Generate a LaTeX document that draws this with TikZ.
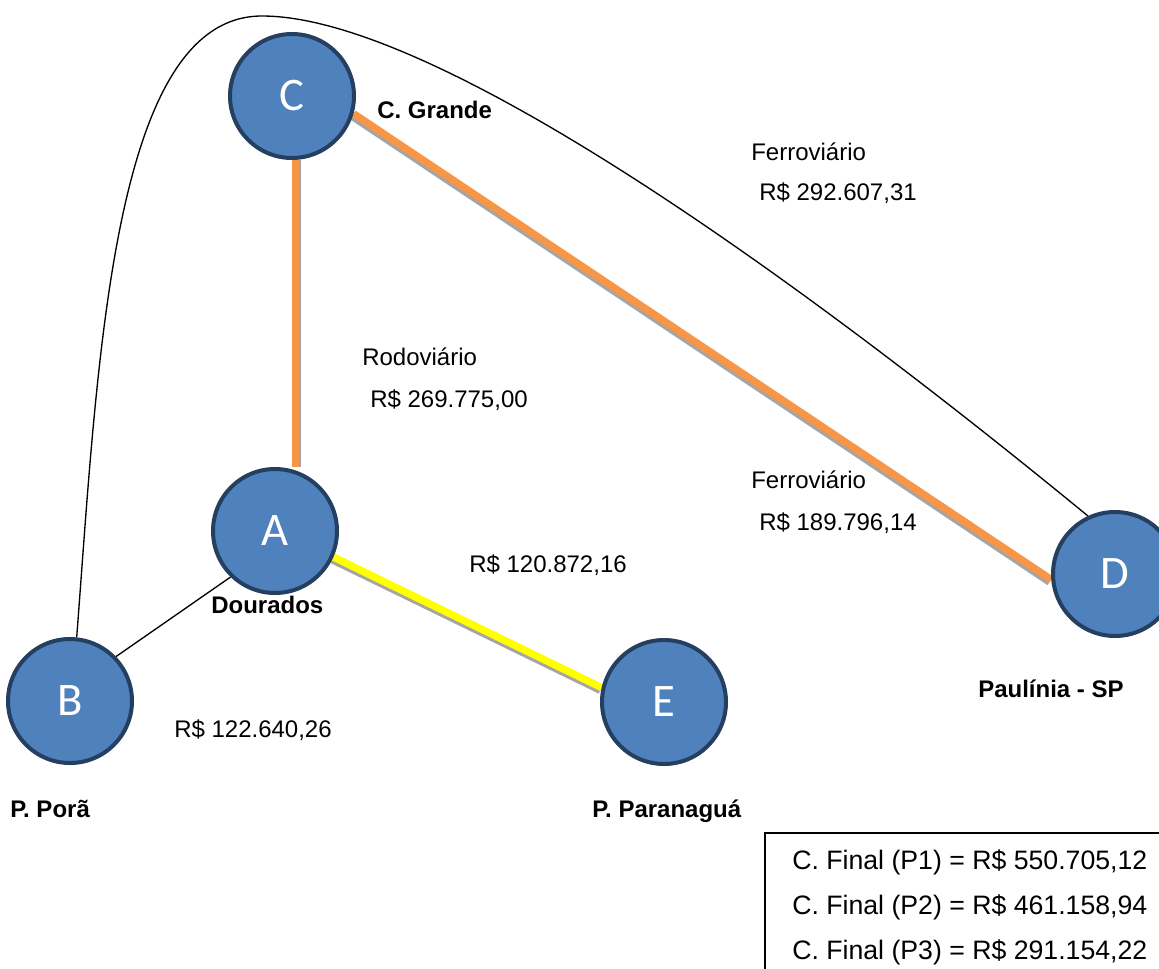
\documentclass[tikz,border=0pt]{standalone}
\usepackage{fontspec}
\setmainfont{Liberation Sans}
\newfontfamily\letterfont{Carlito}
\usetikzlibrary{backgrounds}
\definecolor{nodefill}{HTML}{4F81BD}
\definecolor{nodeline}{HTML}{243F60}
\definecolor{roadorange}{HTML}{F79646}
\definecolor{basegray}{HTML}{A5A5A5}
\definecolor{seayellow}{HTML}{FFFF00}

\begin{document}
\begin{tikzpicture}[x=0.75pt,y=-0.75pt,
  city/.style={circle, fill=nodefill, draw=nodeline, line width=3pt,
    minimum size=93pt, inner sep=0pt, text=white,
    font=\letterfont\fontsize{35}{35}\selectfont},
  place/.style={anchor=base west, inner sep=0pt,
    font=\bfseries\fontsize{18}{20}\selectfont},
  cost/.style={anchor=base west, inner sep=0pt,
    font=\fontsize{18}{20}\selectfont},
  total/.style={anchor=base west, inner sep=0pt,
    font=\fontsize{20}{24}\selectfont},
  route/.style={line width=5.5pt},
  link/.style={black, line width=1pt},
]
\useasboundingbox (0,0) rectangle (1159,968);

% cities
\node[city] (C) at (292,96) {C};
\node[city] (A) at (275,531) {A};
\node[city] (B) at (70,701) {B};
\node[city] (E) at (664,702) {E};
\node[city] (D) at (1115,574) {D};

% connections behind the cities
\begin{scope}[on background layer]
  \draw[route, basegray, transform canvas={shift={(1.5,0)}}] (C.-87) -- (C.-87 |- A.north);
  \draw[route, roadorange] (C.-87) -- (C.-87 |- A.north);
  \draw[route, basegray, transform canvas={shift={(-1.7,2.5)}}] (C.-16) -- (D.185);
  \draw[route, roadorange] (C.-16) -- (D.185);
  \draw[route, basegray, transform canvas={shift={(-1.3,2.7)}}] (A.-24) -- (E.167);
  \draw[route, seayellow] (A.-24) -- (E.167);
  \draw[link] (B.44) -- (A.226);
  \coordinate (apex) at (262,16);
  \draw[link] (B.84) .. controls (98,360) and (112,16) .. (apex)
                     .. controls (417,16) and (737,228) .. (D.115);
\end{scope}

% place names
\node[place] (nC) at (377,118) {C. Grande};
\node[place] (nA) at (211,613) {Dourados};
\node[place] (nB) at (10,817) {P. Porã};
\node[place] (nE) at (592,817) {P. Paranaguá};
\node[place] (nD) at (978,697) {Paulínia - SP};

% costs
\node[cost] (m1) at (751,160) {Ferroviário};
\node[cost] (c1) at (759,200) {R\$ 292.607,31};
\node[cost] (m2) at (362,365) {Rodoviário};
\node[cost] (c2) at (370,407) {R\$ 269.775,00};
\node[cost] (m3) at (751,488) {Ferroviário};
\node[cost] (c3) at (759,530) {R\$ 189.796,14};
\node[cost] (c4) at (469,572) {R\$ 120.872,16};
\node[cost] (c5) at (174,737) {R\$ 122.640,26};

% totals box
\draw[line width=1pt] (765,1000) -- (765,833) -- (1180,833);
\node[total] (t1) at (792,869) {C. Final (P1) = R\$ 550.705,12};
\node[total] (t2) at (792,914) {C. Final (P2) = R\$ 461.158,94};
\node[total] (t3) at (792,959) {C. Final (P3) = R\$ 291.154,22};
\end{tikzpicture}
\end{document}
